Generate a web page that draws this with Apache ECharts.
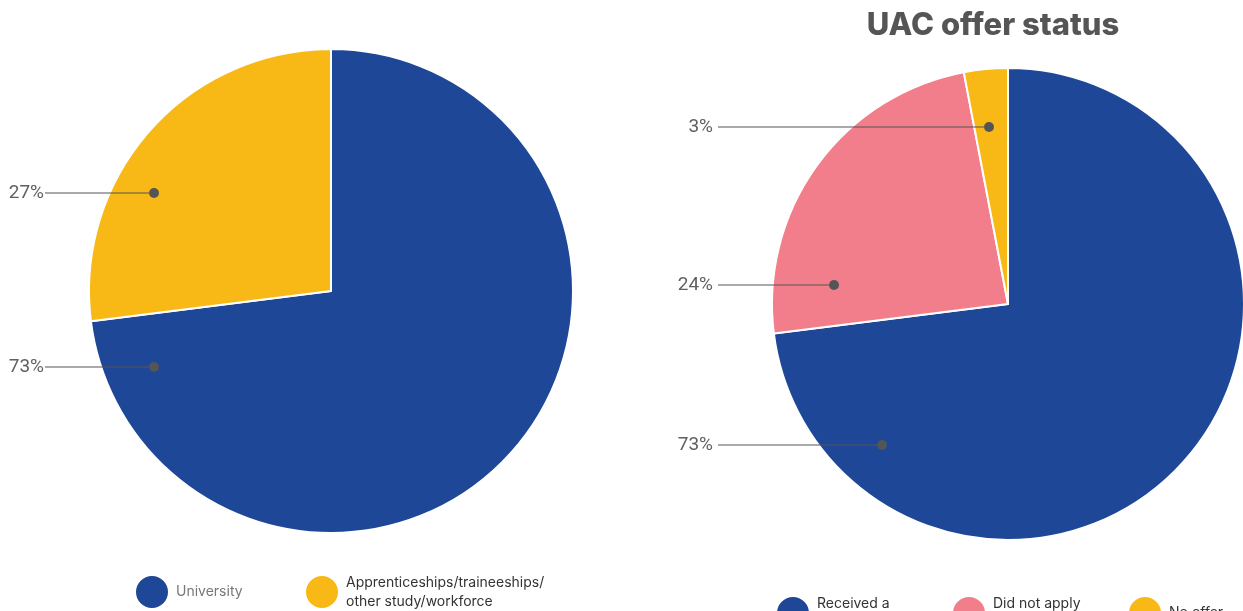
<!DOCTYPE html>
<html>
<head>
<meta charset="utf-8">
<title>Post-school destinations and UAC offer status</title>
<script src="https://cdn.jsdelivr.net/npm/echarts@6/dist/echarts.min.js"></script>
<style>
  html, body { margin: 0; padding: 0; background: #fff; }
  #chart { width: 1243px; height: 611px; }
</style>
</head>
<body>
<div id="chart"></div>
<script>
// left pie: destinations (percent)
const destNames = ['University', 'Apprenticeships/traineeships/other study/workforce'];
const destValues = [73, 27];
const destLegendText = ['University', 'Apprenticeships/traineeships/\nother study/workforce'];

// right pie: UAC offer status (percent)
const offerNames = ['Received a UAC offer', 'Did not apply', 'No offer'];
const offerValues = [73, 24, 3];
const offerLegendText = ['Received a\nUAC offer', 'Did not apply\n', 'No offer'];

const BLUE = '#1e4798';
const YELLOW = '#f8b916';
const PINK = '#f17e8a';
const LINE = '#555';

// where each leader line ends (dot) and where the line starts (text side)
const destDots = [[154, 367], [154, 193]];
const offerDots = [[882, 445], [834, 285], [989, 127]];

function buildLabel(dots, lineStart, gap, key) {
  const rich = {
    v: { fontSize: 19, color: '#606060', fontFamily: 'Roboto', textBorderWidth: 0 },
    s: { width: gap },
    d: { width: 10, height: 10, borderRadius: 5, backgroundColor: LINE }
  };
  dots.forEach((p, i) => {
    rich[key + i] = { width: p[0] - 5 - lineStart, height: 1, backgroundColor: LINE };
  });
  return {
    position: 'inside',
    textBorderWidth: 0,
    textBorderColor: 'transparent',
    formatter: (params) => '{v|' + params.value + '%}{s|}{' + key + params.dataIndex + '|}{d|}',
    rich: rich
  };
}

function placeLabel(dots) {
  return (params) => {
    const p = dots[params.dataIndex];
    return { x: p[0] + 5, y: p[1], align: 'right', verticalAlign: 'middle' };
  };
}

const chart = echarts.init(document.getElementById('chart'));

const option = {
  animation: false,
  title: {
    text: 'UAC offer status',
    left: 988,
    top: 5,
    textAlign: 'center',
    textStyle: { fontFamily: 'Inter', fontWeight: 800, fontSize: 31, color: '#555' }
  },
  legend: [
    {
      data: destNames.map((n, i) => ({
        name: n,
        textStyle: { color: i === 0 ? '#777' : '#333' }
      })),
      left: 134,
      top: 573,
      width: 700,
      padding: 0,
      icon: 'circle',
      itemWidth: 34,
      itemHeight: 34,
      itemGap: 28,
      selectedMode: false,
      formatter: (name) => destLegendText[destNames.indexOf(name)],
      textStyle: { fontFamily: 'Inter', fontSize: 14, lineHeight: 19, width: 100, padding: [0, 0, 0, 2] }
    },
    {
      data: offerNames,
      left: 775,
      top: 594,
      width: 700,
      padding: 0,
      icon: 'circle',
      itemWidth: 34,
      itemHeight: 34,
      itemGap: 26,
      selectedMode: false,
      formatter: (name) => offerLegendText[offerNames.indexOf(name)],
      textStyle: { fontFamily: 'Inter', fontSize: 14, lineHeight: 19, color: '#333', width: 108, padding: [0, 0, 0, 2] }
    }
  ],
  series: [
    {
      name: 'Destination',
      type: 'pie',
      center: [331, 291],
      radius: 242,
      startAngle: 90,
      clockwise: true,
      color: [BLUE, YELLOW],
      itemStyle: { borderColor: '#fff', borderWidth: 2 },
      emphasis: { scale: false },
      label: buildLabel(destDots, 45, 1, 'a'),
      labelLine: { show: false },
      labelLayout: placeLabel(destDots),
      data: destNames.map((n, i) => ({ name: n, value: destValues[i] }))
    },
    {
      name: 'UAC offer status',
      type: 'pie',
      center: [1008, 304],
      radius: 236,
      startAngle: 90,
      clockwise: true,
      color: [BLUE, PINK, YELLOW],
      itemStyle: { borderColor: '#fff', borderWidth: 2 },
      emphasis: { scale: false },
      label: buildLabel(offerDots, 718, 5, 'b'),
      labelLine: { show: false },
      labelLayout: placeLabel(offerDots),
      data: offerNames.map((n, i) => ({ name: n, value: offerValues[i] }))
    }
  ]
};

chart.setOption(option);
window.addEventListener('resize', () => chart.resize());
</script>
</body>
</html>
